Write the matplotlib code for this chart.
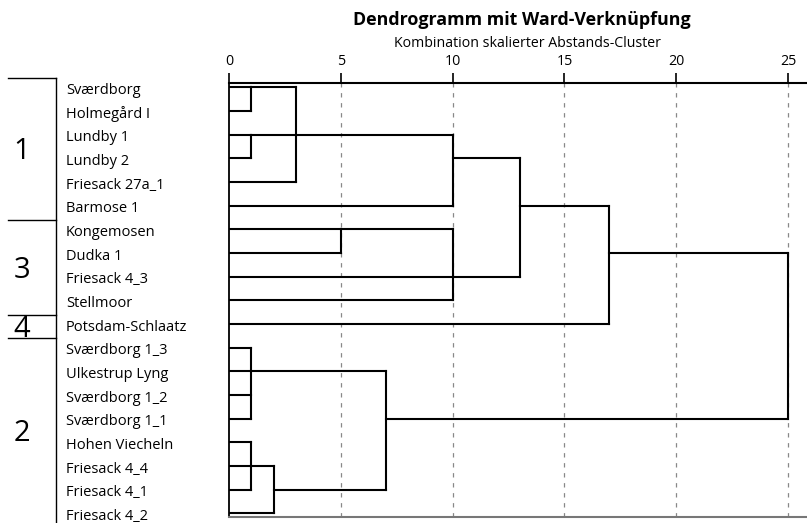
import matplotlib
matplotlib.use("Agg")
import matplotlib.pyplot as plt
from matplotlib.transforms import blended_transform_factory

plt.rcParams['font.family'] = ['Open Sans', 'DejaVu Sans']

# Objects, listed top to bottom in dendrogram order
labels = ["Sværdborg", "Holmegård I", "Lundby 1", "Lundby 2", "Friesack 27a_1",
          "Barmose 1", "Kongemosen", "Dudka 1", "Friesack 4_3", "Stellmoor",
          "Potsdam-Schlaatz", "Sværdborg 1_3", "Ulkestrup Lyng", "Sværdborg 1_2",
          "Sværdborg 1_1", "Hohen Viecheln", "Friesack 4_4", "Friesack 4_1",
          "Friesack 4_2"]

# Agglomeration steps: children (leaf index or earlier step "m<k>"),
# rescaled fusion distance, and the row where the new cluster's stem leaves
merge_children = [[0, 1], [2, 3], ["m0", "m1", 4], ["m2", 5], [6, 7],
                  ["m4", 8, 9], ["m3", "m5"], ["m6", 10], [11, 12, 13, 14],
                  [15, 16, 17], ["m9", 18], ["m8", "m10"], ["m7", "m11"]]
merge_heights = [1, 1, 3, 10, 5, 10, 13, 17, 1, 1, 2, 7, 25]
merge_stem_rows = [0, 2, 2, 3, 6, 8, 5, 7, 12, 16, 17, 14, None]

# Cluster solution shown on the left: names and row boundaries
group_names = ["1", "3", "4", "2"]
group_bounds = [-0.4, 5.6, 9.6, 10.6, 18.4]

x_ticks = [0, 5, 10, 15, 20, 25]

W, H = 807, 523
fig = plt.figure(figsize=(W / 100, H / 100), dpi=100)
ax = fig.add_axes([229 / W, 1 - 517 / H, (807 - 229) / W, (517 - 82.7) / H])
ax.set_xlim(0, (807 - 229) / 22.36)
ax.set_ylim(18.15, -0.2)

lw = 1.5
col = "black"

# Resolve each child's current height and stem row
nodes = {}
for i in range(len(labels)):
    nodes[i] = (0, i)

for k, (children, h, stem) in enumerate(zip(merge_children, merge_heights, merge_stem_rows)):
    rows = []
    for c in children:
        ch, crow = nodes[c]
        ax.plot([ch, h], [crow, crow], color=col, lw=lw, solid_capstyle="projecting")
        rows.append(crow)
    ax.plot([h, h], [min(rows), max(rows)], color=col, lw=lw, solid_capstyle="projecting")
    nodes["m%d" % k] = (h, stem)

# Axis styling: scale on top, dashed guides
ax.xaxis.tick_top()
ax.set_xticks(x_ticks)
ax.set_xticklabels([str(t) for t in x_ticks])
ax.tick_params(axis="x", direction="out", length=7.2, width=1.2, pad=3, labelsize=10.3, colors="black")
ax.set_yticks([])
for t in x_ticks[1:]:
    ax.axvline(t, color="#888888", lw=0.9, ls=(0, (3.5, 4.5)), zorder=0)
ax.spines["right"].set_visible(False)
ax.spines["top"].set_linewidth(1.5)
ax.spines["left"].set_linewidth(1.3)
ax.spines["bottom"].set_linewidth(1.5)
ax.spines["bottom"].set_color("#777777")

# Object labels and cluster brackets on the left
tr = blended_transform_factory(fig.transFigure, ax.transData)
for i, name in enumerate(labels):
    ax.text(66 / W, i + 0.28, name, transform=tr, ha="left", va="baseline", fontsize=10.5, clip_on=False)

bx = 56 / W
ax.plot([bx, bx], [group_bounds[0], group_bounds[-1]], transform=tr, color="black", lw=1.0, clip_on=False)
for b in group_bounds[:-1]:
    ax.plot([8 / W, bx], [b, b], transform=tr, color="black", lw=1.0, clip_on=False)
for name, lo, hi in zip(group_names, group_bounds[:-1], group_bounds[1:]):
    ax.text(22 / W, (lo + hi) / 2 + 0.44, name, transform=tr, ha="center", va="baseline",
            fontsize=21, clip_on=False)

fig.text(522 / W, 1 - 25 / H, "Dendrogramm mit Ward-Verknüpfung", ha="center", va="baseline",
         fontsize=12.9, fontweight="bold")
fig.text(527 / W, 1 - 47 / H, "Kombination skalierter Abstands-Cluster", ha="center", va="baseline",
         fontsize=10.2)

fig.savefig("out.png", dpi=100)
